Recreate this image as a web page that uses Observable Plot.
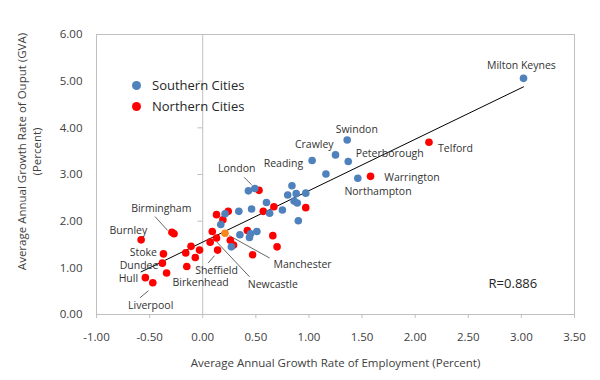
<!DOCTYPE html>
<html>
<head>
<meta charset="utf-8">
<script src="https://cdn.jsdelivr.net/npm/d3@7"></script>
<script src="https://cdn.jsdelivr.net/npm/@observablehq/plot@0.6"></script>
<style>
  html, body { margin: 0; padding: 0; background: #fff; }
  #wrap { position: relative; width: 600px; height: 380px; font-family: "Open Sans", sans-serif; }
  #legend { position: absolute; left: 132px; top: 75px; font-size: 13px; color: #262626; line-height: 21px; }
  #legend .row { display: flex; align-items: center; }
  #legend .sw { width: 9px; height: 9px; border-radius: 50%; margin-right: 11px; }
</style>
</head>
<body>
<div id="wrap"><div id="legend"></div></div>
<script>
// ---- Data ----
const seriesNames = ["Southern Cities", "Northern Cities"];
const seriesColors = ["#4f81bd", "#ff0000"];

const southName = ["Milton Keynes","Swindon","Crawley","Peterborough","Reading","","Northampton","","","","","","","","","London","","","","","","","","","","","",""];
const southX = [3.02, 1.36, 1.25, 1.37, 1.03, 1.16, 1.46, 0.84, 0.80, 0.88, 0.97, 0.86, 0.89, 0.90, 0.75, 0.43, 0.49, 0.60, 0.63, 0.46, 0.34, 0.21, 0.17, 0.35, 0.45, 0.51, 0.44, 0.27];
const southY = [5.06, 3.74, 3.42, 3.28, 3.30, 3.01, 2.92, 2.76, 2.56, 2.59, 2.60, 2.43, 2.39, 2.01, 2.24, 2.65, 2.70, 2.40, 2.17, 2.26, 2.21, 2.16, 1.93, 1.71, 1.73, 1.78, 1.65, 1.45];

const northName = ["Telford","Warrington","","","","","","","","","","","","","Manchester","","","Newcastle","","Sheffield","","","","","Birkenhead","Birmingham","","Burnley","Stoke","Dundee","","Hull","Liverpool"];
const northX = [2.13, 1.58, 0.97, 0.67, 0.53, 0.57, 0.13, 0.24, 0.19, 0.42, 0.66, 0.70, 0.47, 0.09, 0.21, 0.13, 0.07, 0.26, 0.29, 0.14, -0.03, -0.11, -0.07, -0.16, -0.15, -0.29, -0.27, -0.58, -0.37, -0.38, -0.34, -0.54, -0.47];
const northY = [3.69, 2.96, 2.29, 2.31, 2.66, 2.21, 2.14, 2.21, 2.03, 1.80, 1.69, 1.45, 1.28, 1.78, 1.74, 1.64, 1.55, 1.59, 1.49, 1.38, 1.38, 1.46, 1.22, 1.32, 1.03, 1.76, 1.73, 1.60, 1.30, 1.10, 0.89, 0.79, 0.68];

// City labels (text anchor positions in data units)
const labelText = ["Milton Keynes","Swindon","Crawley","Reading","Peterborough","Telford","Warrington","Northampton","London","Birmingham","Burnley","Stoke","Dundee","Hull","Liverpool","Sheffield","Birkenhead","Newcastle","Manchester"];
const labelX = [3.00, 1.45, 1.05, 0.76, 1.76, 2.38, 1.97, 1.65, 0.32, -0.39, -0.70, -0.56, -0.60, -0.70, -0.49, 0.13, -0.02, 0.66, 0.94];
const labelY = [5.33, 3.96, 3.63, 3.24, 3.45, 3.55, 2.94, 2.63, 3.12, 2.27, 1.80, 1.32, 1.05, 0.76, 0.19, 0.95, 0.68, 0.64, 1.06];

// Leader lines (label -> point)
const leaderX1 = [-0.45, -0.59, 0.05, 0.13, 0.25, 0.39];
const leaderY1 = [2.10, 0.36, 1.10, 1.56, 1.69, 2.94];
const leaderX2 = [-0.33, -0.51, 0.11, 0.44, 0.63, 0.46];
const leaderY2 = [1.80, 0.51, 1.26, 0.81, 1.21, 2.78];

const rText = ["R=0.886"];
const rX = [2.92];
const rY = [0.66];

const xTicks = [-1, -0.5, 0, 0.5, 1, 1.5, 2, 2.5, 3, 3.5];
const yTicks = [0, 1, 2, 3, 4, 5, 6];
const xTitle = "Average Annual Growth Rate of Employment (Percent)";
const yTitle = ["Average Annual Growth Rate of Ouput (GVA)", "(Percent)"];

// ---- Build tables ----
const south = southX.map((x, i) => ({x, y: southY[i], name: southName[i], s: 0}));
const north = northX.map((x, i) => ({x, y: northY[i], name: northName[i], s: 1}));
const all = [...south, ...north];
const labels = labelText.map((t, i) => ({t, x: labelX[i], y: labelY[i]}));
const leaders = leaderX1.map((x1, i) => ({x1, y1: leaderY1[i], x2: leaderX2[i], y2: leaderY2[i]}));

const gridGray = "#bfbfbf";
const textCol = "#404040";

const chart = Plot.plot({
  width: 600,
  height: 380,
  marginLeft: 96,
  marginRight: 26,
  marginTop: 34,
  marginBottom: 66,
  style: {fontFamily: "'Open Sans', sans-serif", background: "#fff"},
  x: {domain: [-1, 3.5]},
  y: {domain: [0, 6]},
  marks: [
    Plot.frame({stroke: gridGray}),
    Plot.ruleX([0], {stroke: gridGray}),
    Plot.ruleY(yTicks.slice(1), {x1: -0.045, x2: 0, stroke: gridGray}),
    Plot.axisX({ticks: xTicks, tickFormat: d => d.toFixed(2), tickSize: 4, tickPadding: 14, stroke: gridGray, fill: textCol, fontSize: 11.5, label: null}),
    Plot.axisY({ticks: yTicks, tickFormat: d => d.toFixed(2), tickSize: 0, tickPadding: 14, fill: textCol, fontSize: 11.5, label: null}),
    Plot.text([xTitle], {frameAnchor: "bottom", dy: 52, fill: textCol, fontSize: 11.5}),
    Plot.text([yTitle.join("\n")], {frameAnchor: "left", textAnchor: "middle", lineAnchor: "middle", rotate: -90, dx: -68, dy: -23, fill: textCol, fontSize: 11.5, lineHeight: 1.3}),
    Plot.linearRegressionY(all, {x: "x", y: "y", stroke: "#000", strokeWidth: 1, ci: 0}),
    Plot.link(leaders, {x1: "x1", y1: "y1", x2: "x2", y2: "y2", stroke: "#404040", strokeWidth: 0.8}),
    Plot.dot(north, {x: "x", y: "y", r: 3.8, fill: d => d.name === "Manchester" ? "#f7861c" : seriesColors[1], stroke: null}),
    Plot.dot(south, {x: "x", y: "y", r: 3.8, fill: seriesColors[0], stroke: null}),
    Plot.text(labels, {x: "x", y: "y", text: "t", fill: "#333", fontSize: 10.5}),
    Plot.text(rText, {x: () => rX[0], y: () => rY[0], text: d => d, fill: "#262626", fontSize: 13})
  ]
});
document.getElementById("wrap").prepend(chart);

const legend = document.getElementById("legend");
seriesNames.forEach((n, i) => {
  const row = document.createElement("div");
  row.className = "row";
  row.innerHTML = `<span class="sw" style="background:${seriesColors[i]}"></span><span>${n}</span>`;
  legend.appendChild(row);
});
</script>
</body>
</html>
